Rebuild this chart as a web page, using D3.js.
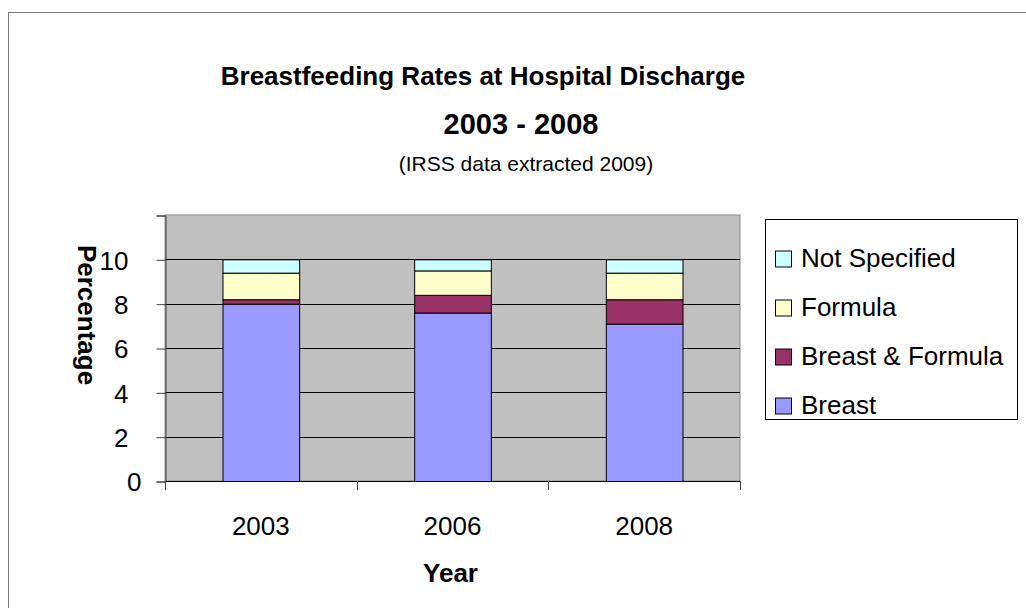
<!DOCTYPE html>
<html>
<head>
<meta charset="utf-8">
<script src="https://cdn.jsdelivr.net/npm/d3@7"></script>
<style>
  html, body { margin: 0; padding: 0; background: #fff; }
  svg { display: block; font-family: "Liberation Sans", Arial, sans-serif; }
</style>
</head>
<body>
<svg id="chart" width="1026" height="608"></svg>
<script>
// values (percent per category)
const years = ['2003', '2006', '2008'];
const breast = [8.0, 7.6, 7.1];
const breastFormula = [0.2, 0.8, 1.1];
const formula = [1.2, 1.1, 1.2];
const notSpecified = [0.6, 0.5, 0.6];
const yTicks = [0, 2, 4, 6, 8, 10, 12];
const yTickLabels = ['0', '2', '4', '6', '8', '10', ''];

const seriesNames = ['Breast', 'Breast & Formula', 'Formula', 'Not Specified'];
const seriesColors = ['#9999FF', '#993366', '#FFFFCC', '#CCFFFF'];

const rows = years.map((y, i) => ({
    year: y,
    'Breast': breast[i],
    'Breast & Formula': breastFormula[i],
    'Formula': formula[i],
    'Not Specified': notSpecified[i]
}));

const svg = d3.select('#chart');

// outer chart border (runs off the right/bottom edge)
svg.append('rect')
    .attr('x', 8.5).attr('y', 12.5)
    .attr('width', 1040).attr('height', 620)
    .attr('fill', '#fff')
    .attr('stroke', '#808080');

const plot = { left: 165, right: 740, top: 215, bottom: 481 };

const x = d3.scaleBand()
    .domain(years)
    .range([plot.left, plot.right])
    .paddingInner(0.6)
    .paddingOuter(0.3);

const y = d3.scaleLinear()
    .domain([0, 12])
    .range([plot.bottom, plot.top]);

// plot area
svg.append('rect')
    .attr('x', plot.left).attr('y', plot.top)
    .attr('width', plot.right - plot.left)
    .attr('height', plot.bottom - plot.top)
    .attr('fill', '#C0C0C0')
    .attr('stroke', '#8a8a8a');

// gridlines
svg.append('g')
    .selectAll('line')
    .data(yTicks.filter(d => d > 0 && d < 12))
    .join('line')
    .attr('x1', plot.left).attr('x2', plot.right)
    .attr('y1', d => Math.round(y(d)) + 0.5)
    .attr('y2', d => Math.round(y(d)) + 0.5)
    .attr('stroke', '#000');

// stacked bars
const stack = d3.stack().keys(seriesNames);
const stacked = stack(rows);

svg.append('g')
    .selectAll('g')
    .data(stacked)
    .join('g')
    .attr('fill', (d, i) => seriesColors[i])
    .selectAll('rect')
    .data(d => d)
    .join('rect')
    .attr('x', d => x(d.data.year) + 0.5)
    .attr('y', d => y(d[1]) + 0.5)
    .attr('width', x.bandwidth())
    .attr('height', d => y(d[0]) - y(d[1]))
    .attr('stroke', '#000')
    .attr('stroke-width', 1);

// y axis
const yAxis = d3.axisLeft(y)
    .tickValues(yTicks)
    .tickSize(9)
    .tickPadding(28)
    .tickFormat((d, i) => yTickLabels[i]);

const yg = svg.append('g')
    .attr('transform', `translate(${plot.left + 0.5},0.5)`)
    .call(yAxis);
yg.select('.domain').attr('stroke', '#404040');
yg.selectAll('.tick line').attr('stroke', '#404040');
yg.selectAll('.tick text')
    .attr('font-size', 26)
    .attr('font-family', '"Liberation Sans", Arial, sans-serif')
    .attr('fill', '#000')
    .attr('dy', '0.36em')
    .filter(d => d === 0)
    .attr('dx', 13);

// x axis: line, ticks at category boundaries, labels under bars
const step = x.step();
const edges = years.map(d => x(d) - step * x.paddingOuter()).concat([plot.right]);

svg.append('line')
    .attr('x1', plot.left).attr('x2', plot.right)
    .attr('y1', plot.bottom + 0.5).attr('y2', plot.bottom + 0.5)
    .attr('stroke', '#000');

svg.append('g')
    .selectAll('line')
    .data(edges)
    .join('line')
    .attr('x1', d => Math.round(d) + 0.5).attr('x2', d => Math.round(d) + 0.5)
    .attr('y1', plot.bottom).attr('y2', plot.bottom + 9)
    .attr('stroke', '#404040');

svg.append('g')
    .selectAll('text')
    .data(years)
    .join('text')
    .attr('x', d => x(d) + x.bandwidth() / 2)
    .attr('y', 535)
    .attr('text-anchor', 'middle')
    .attr('font-size', 26)
    .text(d => d);

// axis titles
svg.append('text')
    .attr('x', (plot.left + plot.right) / 2 - 2)
    .attr('y', 582)
    .attr('text-anchor', 'middle')
    .attr('font-size', 26)
    .attr('font-weight', 'bold')
    .text('Year');

svg.append('text')
    .attr('transform', 'translate(78,315) rotate(90)')
    .attr('text-anchor', 'middle')
    .attr('font-size', 26)
    .attr('font-weight', 'bold')
    .text('Percentage');

// titles
svg.append('text')
    .attr('x', 483).attr('y', 85)
    .attr('text-anchor', 'middle')
    .attr('font-size', 26)
    .attr('font-weight', 'bold')
    .text('Breastfeeding Rates at Hospital Discharge');

svg.append('text')
    .attr('x', 521).attr('y', 134)
    .attr('text-anchor', 'middle')
    .attr('font-size', 29)
    .attr('font-weight', 'bold')
    .text('2003 - 2008');

svg.append('text')
    .attr('x', 526).attr('y', 171)
    .attr('text-anchor', 'middle')
    .attr('font-size', 21)
    .text('(IRSS data extracted 2009)');

// legend
const legend = svg.append('g');
legend.append('rect')
    .attr('x', 765.5).attr('y', 219.5)
    .attr('width', 252).attr('height', 200)
    .attr('fill', '#fff')
    .attr('stroke', '#000');

const legendOrder = seriesNames.map((n, i) => ({ name: n, color: seriesColors[i] })).reverse();

const item = legend.selectAll('g.item')
    .data(legendOrder)
    .join('g')
    .attr('class', 'item')
    .attr('transform', (d, i) => `translate(0,${266.5 + i * 49})`);

item.append('rect')
    .attr('x', 775.5).attr('y', -15.5)
    .attr('width', 16).attr('height', 16)
    .attr('fill', d => d.color)
    .attr('stroke', '#000');

item.append('text')
    .attr('x', 801)
    .attr('y', 0)
    .attr('font-size', 26)
    .text(d => d.name);
</script>
</body>
</html>
